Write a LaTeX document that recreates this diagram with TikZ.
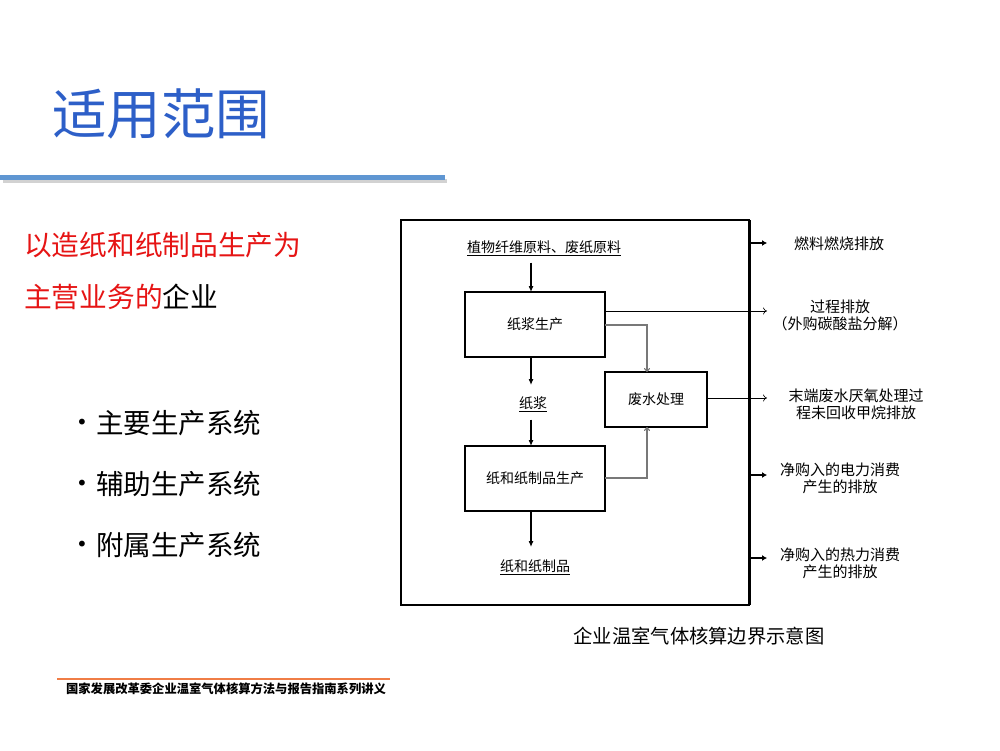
\documentclass[tikz,border=0pt]{standalone}
\usepackage{fontspec}
\setmainfont{Noto Sans CJK SC}
\newfontfamily\dvfont{DejaVu Sans}
\usetikzlibrary{arrows.meta}
\definecolor{titleblue}{RGB}{45,95,200}
\definecolor{lineblue}{RGB}{95,150,210}
\definecolor{redtxt}{RGB}{230,20,20}
\definecolor{footorange}{RGB}{240,125,70}
\definecolor{arrgray}{RGB}{120,120,120}
\begin{document}
\begin{tikzpicture}[x=1pt,y=-1pt,
  pbox/.style={draw,line width=1.2pt,minimum width=140pt,minimum height=65pt,inner sep=0pt,outer sep=0pt,font=\fontsize{14}{16}\selectfont},
  wbox/.style={draw,line width=1.2pt,minimum width=102pt,minimum height=55pt,inner sep=0pt,outer sep=0pt,font=\fontsize{14}{16}\selectfont},
  lbl/.style={font=\fontsize{14}{16}\selectfont,inner sep=0pt},
  emtxt/.style={font=\fontsize{15}{17}\selectfont,align=center,inner sep=0pt},
  flow/.style={-{Latex[length=6pt,width=5pt]},line width=1.1pt},
  gflow/.style={-{To[length=4pt,width=6pt]},draw=arrgray,line width=1.1pt},
  thinarr/.style={-{To[length=4pt,width=7pt]},line width=0.6pt},
  thickarr/.style={-{Latex[length=5pt,width=6pt]},line width=2.5pt},
  bullettxt/.style={anchor=west,font=\fontsize{27.5}{30}\selectfont,inner sep=0pt},
  bulletdot/.style={font=\dvfont\fontsize{20}{24}\selectfont,inner sep=0pt}]
\useasboundingbox (0,0) rectangle (1000,750);
\fill[white] (0,0) rectangle (1000,750);
% title
\node[anchor=west,text=titleblue,font=\fontsize{54.5}{60}\selectfont,inner sep=0pt] (title) at (52,114) {适用范围};
\fill[gray!35] (3,179) rectangle (447,183);
\fill[lineblue] (0,175) rectangle (445,180);
% left text
\node[anchor=west,text=redtxt,font=\fontsize{27.7}{30}\selectfont,inner sep=0pt] (l1) at (24,245) {以造纸和纸制品生产为};
\node[anchor=west,font=\fontsize{27.7}{30}\selectfont,inner sep=0pt] (l2) at (24,297) {\textcolor{redtxt}{主营业务的}企业};
\node[bulletdot] (d1) at (82,424) {•};
\node[bulletdot] (d2) at (82,485) {•};
\node[bulletdot] (d3) at (82,546) {•};
\node[bullettxt] (b1) at (96,423) {主要生产系统};
\node[bullettxt] (b2) at (96,484) {辅助生产系统};
\node[bullettxt] (b3) at (96,545) {附属生产系统};
% frame
\draw[line width=1.5pt] (401,220) rectangle (749,605);
\coordinate (fne) at (749,220);
\coordinate (fse) at (749,605);
\draw[line width=3pt] (fne) -- (fse);
% diagram
\node[lbl] (raw) at (544,248) {\underline{植物纤维原料、废纸原料}};
\node[pbox] (pulp) at (535,324.5) {纸浆生产};
\node[lbl] (pulptxt) at (533,404) {\underline{纸浆}};
\node[pbox] (paper) at (535,478.5) {纸和纸制品生产};
\node[lbl] (prod) at (535,567) {\underline{纸和纸制品}};
\node[wbox] (waste) at (656,399.5) {废水处理};
\draw[flow] (raw.south -| 531,0) ++(0,7) -- (531,292);
\draw[flow] (pulp.south -| 531,0) -- (531,385);
\draw[flow] (pulptxt.south -| 531,0) ++(0,8) -- (paper.north -| 531,0);
\draw[flow] (paper.south -| 531,0) -- (531,547);
\draw[gflow] (pulp.east |- 0,325) -- (647,325) -- (waste.north -| 647,0);
\draw[gflow] (paper.east |- 0,478) -- (647,478) -- (waste.south -| 647,0);
% emissions
\coordinate (e1) at (767,243);
\coordinate (e2) at (767,311);
\coordinate (e3) at (767,398);
\coordinate (e4) at (767,475);
\coordinate (e5) at (767,558);
\draw[thickarr] (fne |- e1) -- (e1);
\draw[thinarr] (pulp.east |- e2) -- (e2);
\draw[thinarr] (waste.east |- e3) -- (e3);
\draw[thickarr] (fne |- e4) -- (e4);
\draw[thickarr] (fne |- e5) -- (e5);
\node[emtxt] (t1) at (839,244) {燃料燃烧排放};
\node[emtxt] (t2) at (840,315) {过程排放\\（外购碳酸盐分解）};
\node[emtxt] (t3) at (856,404) {末端废水厌氧处理过\\程未回收甲烷排放};
\node[emtxt] (t4) at (840,478) {净购入的电力消费\\产生的排放};
\node[emtxt] (t5) at (840,563) {净购入的热力消费\\产生的排放};
% caption
\node[font=\fontsize{19.3}{22}\selectfont,inner sep=0pt] (cap) at (699,636) {企业温室气体核算边界示意图};
% footer
\coordinate (fl) at (57,679);
\coordinate (fr) at (390,679);
\draw[footorange,line width=1.5pt] (fl) -- (fr);
\node[font=\fontsize{12.3}{14}\selectfont\bfseries,inner sep=0pt] (foot) at (226,689) {国家发展改革委企业温室气体核算方法与报告指南系列讲义};
\end{tikzpicture}
\end{document}
